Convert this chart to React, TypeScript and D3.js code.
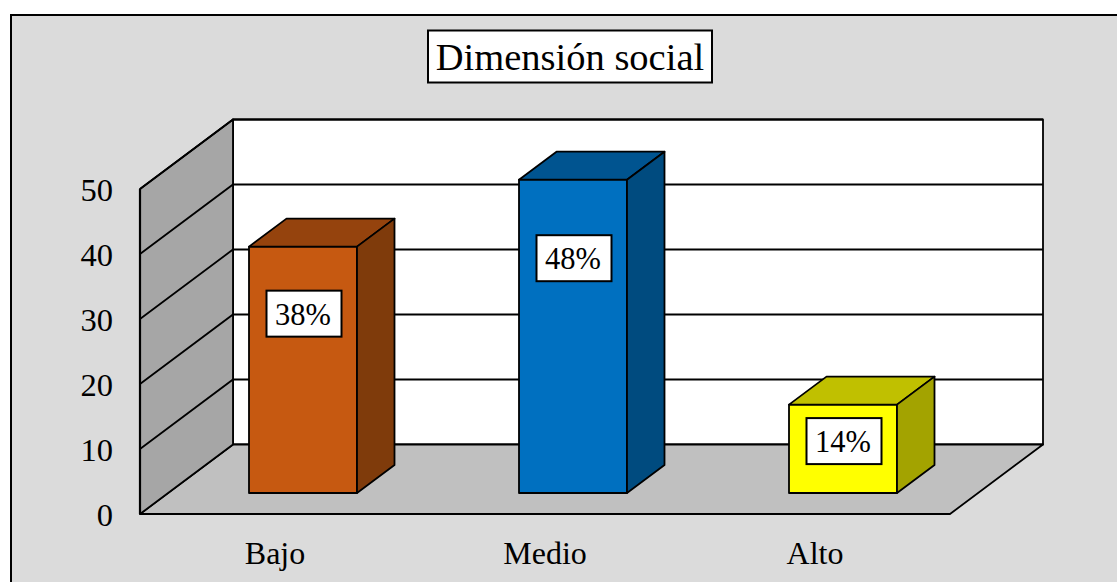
import React, { useEffect, useRef } from 'react';
import * as d3 from 'd3';

const categories = ['Bajo', 'Medio', 'Alto'];
const values = [37.9, 48.2, 13.6];
const valueLabels = ['38%', '48%', '14%'];
const yTicks = [0, 10, 20, 30, 40, 50];
const frontColors = ['#C65911', '#0070C0', '#FFFF00'];
const topColors = ['#95430D', '#005490', '#C0C000'];
const sideColors = ['#7F3B0B', '#004B7F', '#A3A300'];

const width = 1117;
const height = 582;
const serif = '"Liberation Serif", "Times New Roman", serif';

const App: React.FC = () => {
  const ref = useRef<SVGSVGElement | null>(null);

  useEffect(() => {
    const svg = d3.select(ref.current);
    svg.selectAll('*').remove();

    // Scales
    const y = d3.scaleLinear().domain([0, 50]).range([514, 189]);
    const x = d3.scaleBand<string>()
      .domain(categories)
      .range([140, 950])
      .paddingInner(0.6)
      .paddingOuter(0.3);

    // 3D offsets: whole floor depth, gap in front of a bar, bar depth
    const depth = { dx: 93, dy: -69.5 };
    const gap = { dx: 28, dy: -21 };
    const box = { dx: 37.5, dy: -28 };

    const poly = (pts: number[][], fill: string, sw = 1.8) =>
      svg.append('polygon')
        .attr('points', pts.map(p => p.join(',')).join(' '))
        .attr('fill', fill)
        .attr('stroke', '#000')
        .attr('stroke-width', sw)
        .attr('stroke-linejoin', 'round');

    // Chart area
    svg.append('rect')
      .attr('x', 11).attr('y', 15)
      .attr('width', width + 20).attr('height', height + 20)
      .attr('fill', '#DBDBDB')
      .attr('stroke', '#000')
      .attr('stroke-width', 2);

    const [x0, x1] = x.range();
    const y0 = y(0);
    const yTop = y(50);

    // Walls and floor
    poly([[x0 + depth.dx, y0 + depth.dy], [x1 + depth.dx, y0 + depth.dy], [x1 + depth.dx, yTop + depth.dy], [x0 + depth.dx, yTop + depth.dy]], '#FFFFFF');
    poly([[x0, y0], [x0 + depth.dx, y0 + depth.dy], [x1 + depth.dx, y0 + depth.dy], [x1, y0]], '#C0C0C0');
    poly([[x0, y0], [x0, yTop], [x0 + depth.dx, yTop + depth.dy], [x0 + depth.dx, y0 + depth.dy]], '#A6A6A6');

    // Grid lines
    yTicks.slice(1).forEach(t => {
      svg.append('polyline')
        .attr('points', `${x0},${y(t)} ${x0 + depth.dx},${y(t) + depth.dy} ${x1 + depth.dx},${y(t) + depth.dy}`)
        .attr('fill', 'none')
        .attr('stroke', '#000')
        .attr('stroke-width', 1.8);
    });
    svg.append('line')
      .attr('x1', x0).attr('x2', x1)
      .attr('y1', y0).attr('y2', y0)
      .attr('stroke', '#000')
      .attr('stroke-width', 2.2);
    svg.append('line')
      .attr('x1', x0).attr('x2', x0)
      .attr('y1', y0).attr('y2', yTop)
      .attr('stroke', '#000')
      .attr('stroke-width', 2.2);

    // Bars
    categories.forEach((c, i) => {
      const l = x(c)! + gap.dx;
      const r = l + x.bandwidth();
      const b = y0 + gap.dy;
      const t = b - (y0 - y(values[i]));
      poly([[l, b], [l, t], [r, t], [r, b]], frontColors[i]);
      poly([[l, t], [l + box.dx, t + box.dy], [r + box.dx, t + box.dy], [r, t]], topColors[i]);
      poly([[r, b], [r, t], [r + box.dx, t + box.dy], [r + box.dx, b + box.dy]], sideColors[i]);
    });

    // Value labels, dropped from the bar top
    const labelDrop = [67, 78.5, 36.5];
    categories.forEach((c, i) => {
      const cx = x(c)! + gap.dx + x.bandwidth() / 2 + 1;
      const cy = y0 + gap.dy - (y0 - y(values[i])) + labelDrop[i];
      svg.append('rect')
        .attr('x', cx - 37.5).attr('y', cy - 23)
        .attr('width', 75).attr('height', 46)
        .attr('fill', '#fff')
        .attr('stroke', '#000')
        .attr('stroke-width', 2);
      svg.append('text')
        .attr('x', cx - 1).attr('y', cy + 11)
        .attr('text-anchor', 'middle')
        .attr('font-family', serif)
        .attr('font-size', 30.5)
        .attr('fill', '#000')
        .text(valueLabels[i]);
    });

    // Y axis
    const yAxis = svg.append('g')
      .attr('transform', 'translate(122,1)')
      .call(d3.axisLeft(y).tickValues(yTicks).tickSize(0).tickPadding(9));
    yAxis.select('.domain').remove();
    yAxis.selectAll('text')
      .attr('font-family', serif)
      .attr('font-size', 32.5)
      .attr('fill', '#000');

    // X axis
    const xAxis = svg.append('g')
      .attr('transform', `translate(0,${y0})`)
      .call(d3.axisBottom(x).tickSize(0).tickPadding(27));
    xAxis.select('.domain').remove();
    xAxis.selectAll('text')
      .attr('font-family', serif)
      .attr('font-size', 32)
      .attr('fill', '#000');

    // Title
    svg.append('rect')
      .attr('x', 428).attr('y', 30.5)
      .attr('width', 284).attr('height', 52)
      .attr('fill', '#fff')
      .attr('stroke', '#000')
      .attr('stroke-width', 2);
    svg.append('text')
      .attr('x', 570).attr('y', 70)
      .attr('text-anchor', 'middle')
      .attr('font-family', serif)
      .attr('font-size', 38.5)
      .attr('fill', '#000')
      .text('Dimensión social');
  }, []);

  return (
    <svg
      ref={ref}
      width={width}
      height={height}
      style={{ position: 'absolute', left: 0, top: 0, display: 'block', background: '#fff' }}
    />
  );
};

export default App;
